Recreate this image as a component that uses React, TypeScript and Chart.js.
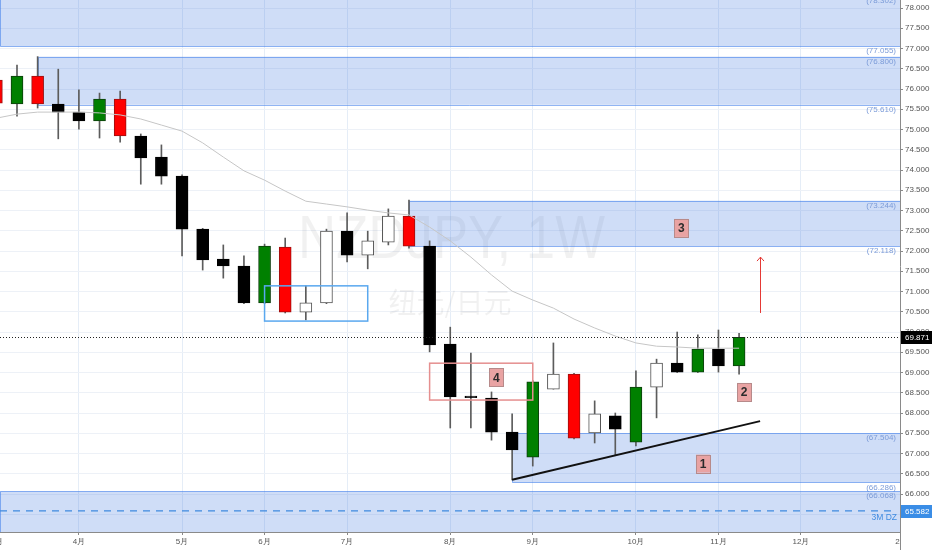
import React, { useEffect, useRef } from 'react';
import { Chart, registerables } from 'chart.js';

Chart.register(...registerables);

// ---- data ----
const weekIndex = [-1, 0, 1, 2, 3, 4, 5, 6, 7, 8, 9, 10, 11, 12, 13, 14, 15, 16, 17, 18, 19, 20, 21, 22, 23, 24, 25, 26, 27, 28, 29, 30, 31, 32, 33, 34, 35];
const opens = [76.22, 75.63, 76.32, 75.63, 75.43, 75.21, 75.75, 74.84, 74.32, 73.85, 72.54, 71.80, 71.63, 70.72, 72.10, 70.49, 70.72, 72.49, 71.90, 72.22, 72.86, 72.12, 69.70, 68.42, 68.37, 67.53, 66.91, 68.59, 68.96, 67.51, 67.93, 67.28, 68.64, 69.23, 69.01, 69.58, 69.16];
const highs = [76.35, 76.59, 76.80, 76.49, 75.98, 75.90, 75.95, 74.89, 74.62, 73.88, 72.56, 72.15, 71.88, 72.17, 72.32, 71.14, 72.54, 72.94, 72.49, 73.04, 73.26, 72.25, 70.12, 69.48, 68.52, 67.98, 68.80, 69.73, 68.98, 68.30, 68.00, 69.04, 69.33, 70.00, 69.93, 70.05, 69.97];
const lows = [75.55, 75.33, 75.53, 74.77, 75.01, 74.79, 74.69, 73.65, 73.65, 71.88, 71.53, 71.33, 70.70, 70.70, 70.47, 70.30, 70.70, 71.73, 71.56, 72.15, 72.07, 69.51, 67.63, 67.63, 67.33, 66.35, 66.69, 68.59, 67.36, 67.26, 66.96, 67.19, 67.88, 69.00, 69.00, 69.01, 68.96];
const closes = [75.65, 76.32, 75.63, 75.43, 75.21, 75.75, 74.84, 74.30, 73.85, 72.54, 71.78, 71.63, 70.72, 72.12, 70.49, 70.72, 72.49, 71.90, 72.25, 72.86, 72.12, 69.68, 68.40, 68.38, 67.53, 67.09, 68.77, 68.96, 67.38, 67.98, 67.60, 68.64, 69.23, 69.01, 69.58, 69.16, 69.87];
const candleKinds = ['red', 'green', 'red', 'black', 'black', 'green', 'red', 'black', 'black', 'black', 'black', 'black', 'black', 'green', 'red', 'white', 'white', 'black', 'white', 'white', 'red', 'black', 'black', 'black', 'black', 'black', 'green', 'white', 'red', 'white', 'black', 'green', 'white', 'black', 'green', 'black', 'green'];
const maValues = [75.28, 75.38, 75.43, 75.43, 75.43, 75.41, 75.36, 75.26, 75.11, 74.96, 74.67, 74.32, 73.98, 73.75, 73.48, 73.23, 73.16, 73.09, 73.01, 72.94, 72.89, 72.59, 72.25, 71.85, 71.41, 71.01, 70.79, 70.59, 70.32, 70.10, 69.90, 69.73, 69.65, 69.63, 69.60, 69.60, 69.60];

const monthTickIndex = [-1, 3, 8, 12, 16, 21, 25, 30, 34, 38];
const monthTickLabels = ['3月', '4月', '5月', '6月', '7月', '8月', '9月', '10月', '11月', '12月'];
const yearTickIndex = 43;
const yearTickLabel = '2019';
const priceTicks = [65.5, 66.0, 66.5, 67.0, 67.5, 68.0, 68.5, 69.0, 69.5, 70.0, 70.5, 71.0, 71.5, 72.0, 72.5, 73.0, 73.5, 74.0, 74.5, 75.0, 75.5, 76.0, 76.5, 77.0, 77.5, 78.0];

const zoneStart = [-0.83, 1, 19, 24, -0.83];
const zoneTop = [78.302, 76.800, 73.244, 67.504, 66.068];
const zoneBottom = [77.055, 75.610, 72.118, 66.286, 64.5];

const boxStart = [12, 20];
const boxEnd = [17, 25];
const boxTop = [71.14, 69.23];
const boxBottom = [70.27, 68.32];
const boxColors = ['#5aa8ef', '#e58f8f'];

const trendIndex = [24, 36.02];
const trendValues = [66.35, 67.80];

const arrowIndex = 36;
const arrowFrom = 70.47;
const arrowTo = 71.85;

const noteTexts = ['1', '2', '3', '4'];
const noteIndex = [33.25, 35.24, 32.2, 23.24];
const noteValues = [66.75, 68.52, 72.57, 68.88];

const lastPrice = 69.871;
const demandPrice = 65.582;
const demandLabel = '3M DZ';
const watermarkTitle = 'NZDJPY, 1W';
const watermarkSub = '纽元/日元';

const xMin = -0.824;
const xMax = 42.8;
const yMin = 65.062;
const yMax = 78.198;

const fillOf: Record<string, string> = { red: '#ff0000', green: '#008000', black: '#000000', white: '#ffffff' };
const edgeOf: Record<string, string> = { red: '#9a1010', green: '#0d3d0d', black: '#000000', white: '#555555' };

const FONT = '"Liberation Sans", Arial, sans-serif';

const overlayPlugin = {
  id: 'overlay',
  beforeDatasetsDraw(chart: any) {
    const { ctx, chartArea: a, scales } = chart;
    const x = scales.x, y = scales.y;
    ctx.save();
    ctx.beginPath();
    ctx.rect(a.left, a.top, a.right - a.left, a.bottom - a.top);
    ctx.clip();

    // watermark
    ctx.fillStyle = 'rgba(0,0,0,0.055)';
    ctx.textAlign = 'center';
    ctx.textBaseline = 'alphabetic';
    ctx.font = `62px ${FONT}`;
    const w = ctx.measureText(watermarkTitle).width;
    ctx.save();
    ctx.translate((a.left + a.right) / 2 + 1.5, 258);
    ctx.scale(307 / w, 1);
    ctx.fillText(watermarkTitle, 0, 0);
    ctx.restore();
    ctx.font = `28px "Noto Sans CJK SC", sans-serif`;
    ctx.textBaseline = 'middle';
    ctx.fillText(watermarkSub, (a.left + a.right) / 2, 302);

    // zones
    for (let i = 0; i < zoneTop.length; i++) {
      const x0 = Math.max(x.getPixelForValue(zoneStart[i]), a.left);
      const x1 = a.right;
      const yt = y.getPixelForValue(zoneTop[i]);
      const yb = y.getPixelForValue(zoneBottom[i]);
      ctx.fillStyle = 'rgba(65,120,225,0.25)';
      ctx.fillRect(x0, yt, x1 - x0, yb - yt);
      ctx.strokeStyle = 'rgba(70,130,235,0.6)';
      ctx.lineWidth = 1;
      ctx.beginPath();
      ctx.moveTo(x1, Math.round(yt) + 0.5);
      ctx.lineTo(Math.round(x0) + 0.5, Math.round(yt) + 0.5);
      ctx.lineTo(Math.round(x0) + 0.5, Math.round(yb) + 0.5);
      ctx.lineTo(x1, Math.round(yb) + 0.5);
      ctx.stroke();
      ctx.fillStyle = '#7b9bd8';
      ctx.font = `8px ${FONT}`;
      ctx.textAlign = 'right';
      ctx.textBaseline = 'middle';
      ctx.fillText(`(${zoneTop[i].toFixed(3)})`, a.right - 4, yt + 5);
      if (zoneBottom[i] > yMin) ctx.fillText(`(${zoneBottom[i].toFixed(3)})`, a.right - 4, yb + 5);
    }
    ctx.restore();
  },
  afterDatasetsDraw(chart: any) {
    const { ctx, chartArea: a, scales } = chart;
    const x = scales.x, y = scales.y;
    ctx.save();
    ctx.beginPath();
    ctx.rect(a.left, a.top, a.right - a.left, a.bottom - a.top);
    ctx.clip();

    // hollow boxes
    for (let i = 0; i < boxStart.length; i++) {
      const x0 = x.getPixelForValue(boxStart[i]);
      const x1 = x.getPixelForValue(boxEnd[i]);
      const yt = y.getPixelForValue(boxTop[i]);
      const yb = y.getPixelForValue(boxBottom[i]);
      ctx.strokeStyle = boxColors[i];
      ctx.lineWidth = 1.5;
      ctx.strokeRect(x0, yt, x1 - x0, yb - yt);
    }

    // last price dotted line
    const lp = Math.round(y.getPixelForValue(lastPrice)) + 0.5;
    ctx.strokeStyle = '#222';
    ctx.lineWidth = 1;
    ctx.setLineDash([1, 2]);
    ctx.beginPath();
    ctx.moveTo(a.left, lp);
    ctx.lineTo(a.right, lp);
    ctx.stroke();

    // demand dashed line
    const dp = y.getPixelForValue(demandPrice);
    ctx.strokeStyle = '#3f8be0';
    ctx.lineWidth = 1.3;
    ctx.setLineDash([7, 6]);
    ctx.beginPath();
    ctx.moveTo(a.left, dp);
    ctx.lineTo(a.right - 6, dp);
    ctx.stroke();
    ctx.setLineDash([]);
    ctx.fillStyle = '#3f8be0';
    ctx.font = `8.5px ${FONT}`;
    ctx.textAlign = 'right';
    ctx.textBaseline = 'middle';
    ctx.fillText(demandLabel, a.right - 3, dp + 7);

    // arrow
    const ax = Math.round(x.getPixelForValue(arrowIndex)) + 0.5;
    const ay0 = y.getPixelForValue(arrowFrom);
    const ay1 = y.getPixelForValue(arrowTo);
    ctx.strokeStyle = '#e53935';
    ctx.lineWidth = 1;
    ctx.beginPath();
    ctx.moveTo(ax, ay0);
    ctx.lineTo(ax, ay1);
    ctx.moveTo(ax - 3.5, ay1 + 4);
    ctx.lineTo(ax, ay1);
    ctx.lineTo(ax + 3.5, ay1 + 4);
    ctx.stroke();

    // numbered notes
    for (let i = 0; i < noteTexts.length; i++) {
      const cx = x.getPixelForValue(noteIndex[i]);
      const cy = y.getPixelForValue(noteValues[i]);
      ctx.fillStyle = '#e9a3a3';
      ctx.fillRect(cx - 7, cy - 9, 14, 18);
      ctx.strokeStyle = '#b78a8a';
      ctx.lineWidth = 1;
      ctx.strokeRect(Math.round(cx - 7) + 0.5, Math.round(cy - 9) + 0.5, 14, 18);
      ctx.fillStyle = '#2b2b2b';
      ctx.font = `bold 12px ${FONT}`;
      ctx.textAlign = 'center';
      ctx.textBaseline = 'middle';
      ctx.fillText(noteTexts[i], cx, cy + 1);
    }
    ctx.restore();

    // price labels on axis
    ctx.save();
    const drawTag = (v: number, bg: string) => {
      const py = y.getPixelForValue(v);
      ctx.fillStyle = bg;
      ctx.fillRect(a.right + 1, Math.round(py) - 6, 32, 13);
      ctx.fillStyle = '#ffffff';
      ctx.font = `8px ${FONT}`;
      ctx.textAlign = 'left';
      ctx.textBaseline = 'middle';
      ctx.fillText(v.toFixed(3), a.right + 5, Math.round(py) + 0.5);
    };
    drawTag(lastPrice, '#000000');
    drawTag(demandPrice, '#3a8de6');

    // extend axis line
    ctx.strokeStyle = '#8a8a8a';
    ctx.lineWidth = 1;
    ctx.beginPath();
    ctx.moveTo(a.right + 0.5, a.bottom);
    ctx.lineTo(a.right + 0.5, chart.height);
    ctx.stroke();

    // year label clipped at plot edge
    ctx.beginPath();
    ctx.rect(a.left, a.bottom + 1, a.right - a.left, chart.height - a.bottom);
    ctx.clip();
    ctx.fillStyle = '#555';
    ctx.font = `8px ${FONT}`;
    ctx.textAlign = 'center';
    ctx.textBaseline = 'middle';
    ctx.fillText(yearTickLabel, x.getPixelForValue(yearTickIndex), a.bottom + 10);
    ctx.restore();
  },
};

export default function App() {
  const ref = useRef<HTMLCanvasElement | null>(null);

  useEffect(() => {
    document.body.style.margin = '0';
    const canvas = ref.current;
    if (!canvas) return;

    const bodies = weekIndex.map((i, k) => ({ x: i, y: [opens[k], closes[k]] }));
    const wicks = weekIndex.map((i, k) => ({ x: i, y: [lows[k], highs[k]] }));
    const ma = weekIndex.map((i, k) => ({ x: i, y: maValues[k] }));
    const trend = trendIndex.map((i, k) => ({ x: i, y: trendValues[k] }));

    const chart = new Chart(canvas, {
      type: 'bar',
      data: {
        datasets: [
          {
            type: 'line',
            data: ma,
            borderColor: '#c6c6c6',
            borderWidth: 1,
            pointRadius: 0,
            tension: 0,
            order: 0,
          } as any,
          {
            type: 'line',
            data: trend,
            borderColor: '#111111',
            borderWidth: 2,
            pointRadius: 0,
            order: 0,
          } as any,
          {
            type: 'bar',
            data: bodies as any,
            backgroundColor: candleKinds.map((c) => fillOf[c]),
            borderColor: candleKinds.map((c) => edgeOf[c]),
            borderWidth: 1,
            borderSkipped: false,
            barThickness: 12,
            grouped: false,
            order: 1,
          } as any,
          {
            type: 'bar',
            data: wicks as any,
            backgroundColor: '#5c5c5c',
            borderWidth: 0,
            barThickness: 1,
            grouped: false,
            order: 2,
          } as any,
        ],
      },
      options: {
        responsive: false,
        animation: false,
        devicePixelRatio: 1,
        events: [],
        layout: { padding: 0 },
        plugins: { legend: { display: false }, tooltip: { enabled: false } },
        scales: {
          x: {
            type: 'linear',
            min: xMin,
            max: xMax,
            offset: false,
            afterBuildTicks: (s: any) => {
              s.ticks = monthTickIndex.map((v) => ({ value: v }));
            },
            afterFit: (s: any) => {
              s.height = 18;
              s.paddingLeft = 0;
              s.paddingRight = 0;
            },
            grid: { offset: false, color: '#e5edf7', lineWidth: 1, drawTicks: true, tickLength: 3, tickColor: '#8a8a8a' },
            border: { display: true, color: '#8a8a8a', width: 1 },
            ticks: {
              autoSkip: false,
              maxRotation: 0,
              padding: 2,
              color: '#555555',
              font: { family: FONT, size: 8 },
              callback: (v: any) => {
                const k = monthTickIndex.indexOf(Number(v));
                return k >= 0 ? monthTickLabels[k] : '';
              },
            },
          },
          y: {
            type: 'linear',
            position: 'right',
            min: yMin,
            max: yMax,
            afterBuildTicks: (s: any) => {
              s.ticks = priceTicks.map((v) => ({ value: v }));
            },
            afterFit: (s: any) => {
              s.width = 32;
              s.paddingTop = 0;
              s.paddingBottom = 0;
            },
            grid: { color: '#edf1f7', lineWidth: 1, drawTicks: true, tickLength: 3, tickColor: '#8a8a8a' },
            border: { display: true, color: '#8a8a8a', width: 1 },
            ticks: {
              padding: 2,
              color: '#555555',
              font: { family: FONT, size: 8 },
              callback: (v: any) => Number(v).toFixed(3),
            },
          },
        },
      },
      plugins: [overlayPlugin],
    });

    return () => chart.destroy();
  }, []);

  return (
    <div style={{ width: 932, height: 550, background: '#ffffff' }}>
      <canvas ref={ref} width={932} height={550} style={{ display: 'block' }} />
    </div>
  );
}
